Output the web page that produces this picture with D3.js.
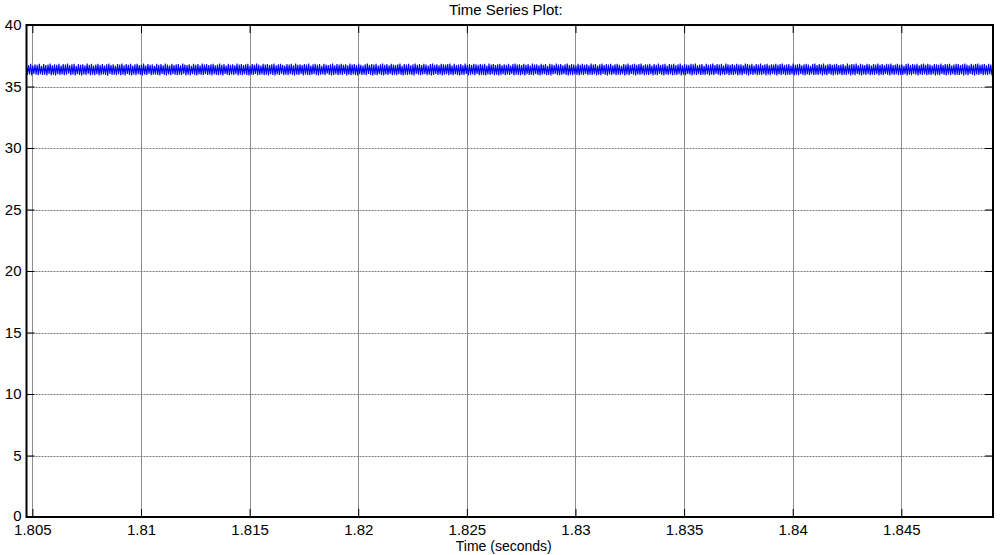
<!DOCTYPE html>
<html>
<head>
<meta charset="utf-8">
<script src="https://cdn.jsdelivr.net/npm/d3@7"></script>
<style>
  html, body { margin: 0; padding: 0; background: #fff; }
  svg { display: block; font-family: Arial, "Liberation Sans", sans-serif; }
</style>
</head>
<body>
<svg id="chart" width="1003" height="555"></svg>
<script>
// Signal samples (volts), fixed-step simulation output
const startTime = 1.80472;
const sampleStep = 0.00005;
const signal = [
  36.82,35.93,36.74,35.98,36.85,35.90,36.71,36.02,36.80,35.95,36.77,35.91,36.84,36.00,36.69,35.94,36.83,35.97,36.75,35.89,
  36.79,36.03,36.86,35.92,36.72,35.96,36.81,35.90,36.76,36.01,36.84,35.93,36.70,35.99,36.82,35.91,36.78,35.95,36.87,36.04,
  36.73,35.92,36.80,35.97,36.85,35.90,36.68,36.00,36.83,35.94,36.76,35.89,36.81,35.98,36.72,35.93,36.86,36.02,36.77,35.91,
  36.84,35.96,36.70,35.92,36.79,36.01,36.85,35.90,36.74,35.95,36.82,35.99,36.71,35.93,36.80,35.88,36.87,36.03,36.75,35.94,
  36.81,35.97,36.69,35.91,36.83,36.00,36.78,35.92,36.86,35.96,36.73,35.90,36.82,36.02,36.76,35.94,36.84,35.89,36.70,35.98,
  36.80,35.92,36.85,36.01,36.74,35.95,36.79,35.90,36.87,35.97,36.71,35.93,36.83,36.04,36.77,35.91,36.81,35.96,36.68,35.99,
  36.84,35.93,36.76,35.90,36.82,36.02,36.73,35.94,36.86,35.89,36.78,35.98,36.70,35.92,36.85,36.00,36.75,35.95,36.80,35.91,
  36.83,35.97,36.72,35.93,36.87,36.03,36.79,35.90,36.74,35.96,36.81,35.92,36.69,36.01,36.84,35.94,36.77,35.89,36.82,35.99,
  36.71,35.95,36.86,35.91,36.78,36.02,36.83,35.93,36.75,35.97,36.80,35.90,36.85,36.00,36.72,35.94,36.79,35.92,36.87,35.96,
  36.76,35.89,36.82,36.03,36.70,35.95,36.84,35.91,36.77,35.98,36.81,35.93,36.73,36.01,36.86,35.90,36.78,35.96,36.83,35.92,
  36.74,36.00,36.80,35.94,36.85,35.89,36.69,35.97,36.82,35.93,36.76,36.02,36.87,35.91,36.79,35.95,36.71,35.99,36.84,35.92,
  36.78,35.96,36.83,35.90,36.75,36.01,36.81,35.94,36.86,35.89,36.73,35.98,36.80,35.93,36.85,36.03,36.77,35.91,36.70,35.97,
  36.82,35.92,36.79,36.00,36.84,35.95,36.72,35.90,36.87,35.96,36.76,35.93,36.81,36.02,36.74,35.89,36.83,35.98,36.78,35.94,
  36.86,35.91,36.71,35.97,36.80,36.01,36.85,35.93,36.77,35.90,36.82,35.96,36.69,35.99,36.84,35.92,36.79,36.04,36.75,35.95,
  36.81,35.89,36.87,35.94,36.73,36.00,36.83,35.91,36.78,35.97,36.85,35.93,36.76,36.02,36.80,35.90,36.72,35.96,36.86,35.92,
  36.79,35.98,36.82,35.94,36.74,35.89,36.84,36.01,36.77,35.93,36.70,35.97,36.81,35.91,36.87,36.03,36.75,35.95,36.83,35.90,
  36.78,35.96,36.85,35.92,36.71,36.00,36.80,35.94,36.86,35.89,36.76,35.98,36.82,35.93,36.73,36.02,36.84,35.91,36.79,35.97,
  36.75,35.92,36.81,36.01,36.87,35.95,36.69,35.90,36.83,35.96,36.78,35.93,36.85,35.99,36.72,35.94,36.80,35.89,36.86,36.03,
  36.77,35.95,36.82,35.91,36.74,35.97,36.84,36.00,36.79,35.92,36.71,35.96,36.83,35.90,36.87,35.94,36.76,36.02,36.81,35.93,
  36.73,35.98,36.85,35.89,36.80,35.95,36.78,36.01,36.82,35.92,36.86,35.97,36.70,35.91,36.84,36.00,36.75,35.94,36.79,35.90,
  36.83,35.96,36.72,35.93,36.87,36.02,36.77,35.89,36.81,35.95,36.74,35.98,36.85,35.92,36.80,36.03,36.76,35.91,36.82,35.97,
  36.78,35.93,36.84,35.90,36.71,35.99,36.86,35.94,36.79,36.01,36.83,35.92,36.75,35.96,36.80,35.89,36.85,35.95,36.73,36.00,
  36.81,35.91,36.77,35.97,36.84,35.93,36.70,36.02,36.82,35.90,36.87,35.96,36.78,35.94,36.80,35.92,36.74,35.99,36.85,35.90,
  36.76,36.00,36.83,35.93,36.71,35.96,36.86,35.91,36.79,36.02,36.81,35.94,36.73,35.89,36.84,35.97,36.77,36.01,36.82,35.92,
  36.69,35.95,36.85,35.90,36.80,35.98,36.75,36.03,36.87,35.93,36.78,35.91,36.83,35.96,36.72,36.00,36.81,35.94,36.86,35.89,
  36.74,35.97,36.82,35.92,36.79,36.01,36.70,35.95,36.84,35.90,36.77,35.99,36.85,35.93,36.76,36.02,36.80,35.91,36.73,35.96,
  36.87,35.94,36.78,36.00,36.83,35.89,36.71,35.97,36.81,35.92,36.86,36.03,36.75,35.95,36.82,35.90,36.79,35.98,36.84,35.93,
  36.72,36.01,36.80,35.91,36.85,35.96,36.77,35.94,36.69,36.00,36.83,35.89,36.78,35.97,36.86,35.92,36.74,36.02,36.81,35.95,
  36.84,35.90,36.76,35.99,36.82,35.93,36.87,36.01,36.73,35.91,36.80,35.96,36.79,35.94,36.85,36.00,36.71,35.89,36.83,35.97,
  36.77,35.92,36.86,36.03,36.75,35.95,36.81,35.90,36.84,35.98,36.70,35.93,36.82,36.01,36.78,35.91,36.85,35.96,36.74,35.94,
  36.80,36.00,36.87,35.89,36.72,35.97,36.83,35.92,36.79,36.02,36.76,35.95,36.84,35.90,36.81,35.99,36.86,35.93,36.73,36.01,
  36.78,35.91,36.82,35.96,36.69,35.94,36.85,36.00,36.77,35.89,36.80,35.97,36.87,35.92,36.75,36.03,36.83,35.95,36.79,35.90,
  36.84,35.98,36.71,35.93,36.86,36.01,36.81,35.91,36.76,35.96,36.82,35.94,36.74,36.00,36.85,35.89,36.78,35.97,36.80,35.92,
  36.73,36.02,36.87,35.95,36.83,35.90,36.77,35.99,36.84,35.93,36.70,36.01,36.82,35.91,36.79,35.96,36.86,35.94,36.75,36.00,
  36.81,35.89,36.85,35.97,36.72,35.92,36.80,36.03,36.78,35.95,36.84,35.90,36.76,35.98,36.83,35.93,36.87,36.01,36.74,35.91,
  36.79,35.96,36.82,35.94,36.71,36.00,36.86,35.89,36.77,35.97,36.81,35.92,36.85,36.02,36.73,35.95,36.80,35.90,36.84,35.99,
  36.78,35.93,36.69,36.01,36.83,35.91,36.87,35.96,36.75,35.94,36.82,36.00,36.79,35.89,36.86,35.97,36.72,35.92,36.80,36.03,
  36.84,35.95,36.76,35.90,36.81,35.98,36.85,35.93,36.74,36.01,36.78,35.91,36.83,35.96,36.70,35.94,36.87,36.00,36.77,35.89,
  36.82,35.97,36.80,35.92,36.86,36.02,36.73,35.95,36.84,35.90,36.79,35.99,36.75,35.93,36.85,36.01,36.81,35.91,36.71,35.96,
  36.83,35.94,36.78,36.00,36.87,35.89,36.76,35.97,36.82,35.92,36.72,36.03,36.84,35.95,36.80,35.90,36.86,35.98,36.74,35.93,
  36.79,36.01,36.85,35.91,36.77,35.96,36.81,35.94,36.69,36.00,36.83,35.89,36.86,35.97,36.75,35.92,36.82,36.02,36.78,35.95,
  36.84,35.90,36.73,35.99,36.80,35.93,36.87,36.01,36.76,35.91,36.85,35.96,36.79,35.94,36.71,36.00,36.83,35.89,36.81,35.97,
  36.77,35.92,36.86,36.03,36.74,35.95,36.82,35.90,36.80,35.98,36.84,35.93,36.70,36.01,36.78,35.91,36.85,35.96,36.83,35.94,
  36.75,36.00,36.81,35.89,36.87,35.97,36.79,35.92,36.72,36.02,36.84,35.95,36.77,35.90,36.82,35.99,36.86,35.93,36.76,36.01,
  36.80,35.91,36.83,35.96,36.73,35.94,36.85,36.00,36.78,35.89,36.81,35.97,36.84,35.92,36.79,36.03
];

// Axis ticks and labels
const xTicks = [1.805, 1.81, 1.815, 1.82, 1.825, 1.83, 1.835, 1.84, 1.845];
const xTickLabels = ["1.805", "1.81", "1.815", "1.82", "1.825", "1.83", "1.835", "1.84", "1.845"];
const yTicks = [0, 5, 10, 15, 20, 25, 30, 35, 40];
const yTickLabels = ["0", "5", "10", "15", "20", "25", "30", "35", "40"];
const xDomain = [1.80473, 1.84922];
const yDomain = [0, 40];

const titleText = "Time Series Plot:";
const xLabelText = "Time (seconds)";

const svg = d3.select("#chart");
const plot = { left: 26.5, top: 25, right: 993, bottom: 517 };

const x = d3.scaleLinear().domain(xDomain).range([plot.left, plot.right]);
const y = d3.scaleLinear().domain(yDomain).range([plot.bottom, plot.top]);

// Clip for the data line
svg.append("defs").append("clipPath").attr("id", "plot-clip")
  .append("rect")
  .attr("x", plot.left).attr("y", plot.top)
  .attr("width", plot.right - plot.left).attr("height", plot.bottom - plot.top);

// Vertical grid lines
svg.append("g").selectAll("line")
  .data(xTicks)
  .join("line")
  .attr("x1", d => Math.round(x(d)) + 0.5).attr("x2", d => Math.round(x(d)) + 0.5)
  .attr("y1", plot.top).attr("y2", plot.bottom)
  .attr("stroke", "#8c8c8c").attr("stroke-width", 1);

// Horizontal grid lines (dotted)
svg.append("g").selectAll("line")
  .data(yTicks.filter(v => v > yDomain[0] && v < yDomain[1]))
  .join("line")
  .attr("x1", plot.left).attr("x2", plot.right)
  .attr("y1", d => Math.round(y(d)) + 0.5).attr("y2", d => Math.round(y(d)) + 0.5)
  .attr("stroke", "#7a7a7a").attr("stroke-width", 1)
  .attr("stroke-dasharray", "2,1");

// Data line
const line = d3.line()
  .x((d, i) => x(startTime + i * sampleStep))
  .y(d => y(d));

svg.append("path")
  .datum(signal)
  .attr("clip-path", "url(#plot-clip)")
  .attr("fill", "none")
  .attr("stroke", "#0000ff")
  .attr("stroke-width", 1.1)
  .attr("d", line);

// Axes with inward ticks on all four sides
const tickLen = 8;
const styleAxis = g => {
  g.select(".domain").remove();
  g.selectAll(".tick line").attr("stroke", "#000").attr("stroke-width", 1);
  g.selectAll(".tick text").attr("fill", "#000").attr("font-size", "15px")
    .attr("font-family", "Arial, 'Liberation Sans', sans-serif");
};

svg.append("g")
  .attr("transform", `translate(0,${plot.bottom})`)
  .call(d3.axisBottom(x).tickValues(xTicks)
    .tickFormat((d, i) => xTickLabels[i])
    .tickSizeInner(-tickLen).tickPadding(7))
  .call(styleAxis);

svg.append("g")
  .attr("transform", `translate(0,${plot.top})`)
  .call(d3.axisTop(x).tickValues(xTicks).tickFormat("").tickSizeInner(-tickLen))
  .call(styleAxis);

svg.append("g")
  .attr("transform", `translate(${plot.left},0)`)
  .call(d3.axisLeft(y).tickValues(yTicks)
    .tickFormat((d, i) => yTickLabels[i])
    .tickSizeInner(-tickLen).tickPadding(5))
  .call(styleAxis)
  .call(g => g.selectAll(".tick text").filter(d => d === 0).attr("dy", "0.2em"));

svg.append("g")
  .attr("transform", `translate(${plot.right},0)`)
  .call(d3.axisRight(y).tickValues(yTicks).tickFormat("").tickSizeInner(-tickLen))
  .call(styleAxis);

// Axes box
svg.append("rect")
  .attr("x", plot.left).attr("y", plot.top)
  .attr("width", plot.right - plot.left).attr("height", plot.bottom - plot.top)
  .attr("fill", "none").attr("stroke", "#000").attr("stroke-width", 2);

// Title and axis label
svg.append("text")
  .attr("x", (plot.left + plot.right) / 2 - 4).attr("y", 15)
  .attr("text-anchor", "middle").attr("font-size", "15px").attr("fill", "#000")
  .text(titleText);

svg.append("text")
  .attr("x", (plot.left + plot.right) / 2 - 6).attr("y", 551)
  .attr("text-anchor", "middle").attr("font-size", "14px").attr("fill", "#000")
  .text(xLabelText);
</script>
</body>
</html>
